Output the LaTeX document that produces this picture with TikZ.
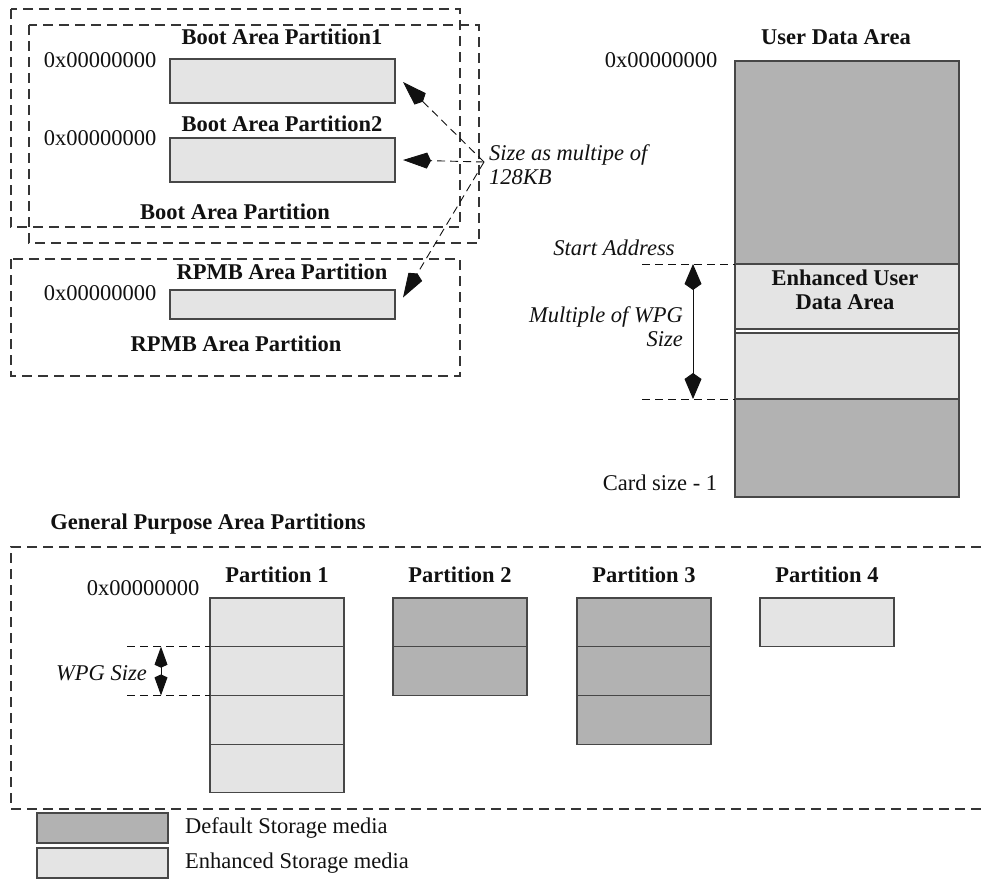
\documentclass[tikz,border=0pt]{standalone}
\usepackage{fontspec}
\setmainfont{Liberation Serif}
\definecolor{ink}{HTML}{111111}
\definecolor{frame}{HTML}{474747}
\definecolor{defmedia}{HTML}{B2B2B2}
\definecolor{enhmedia}{HTML}{E4E4E4}
\usetikzlibrary{
  arrows.meta,
  positioning,
  calc
}
\tikzset{
  every node/.style={font=\fontsize{22.5}{24}\selectfont, text=ink, inner sep=1pt},
  region/.style={draw=ink!85, dash pattern=on 10pt off 6pt, line width=1.1pt},
  cell/.style={
    draw=frame,
    line width=1.1pt,
    inner sep=0pt,
    outer sep=0pt,
    anchor=north west,
    minimum width=134pt,
    minimum height=48.7pt
  },
  title/.style={font=\fontsize{22.5}{24}\selectfont\bfseries},
  note/.style={font=\fontsize{22.5}{24}\selectfont\itshape},
  guide/.style={draw=ink, dash pattern=on 8pt off 5pt, line width=0.9pt},
  pointer/.style={guide, -{Kite[length=28pt, width=16pt, inset=4pt]}},
  span/.style={draw=ink, line width=1pt,
    {Kite[length=26pt, width=17pt, inset=6pt]}-{Kite[length=26pt, width=17pt, inset=6pt]}},
  smallspan/.style={draw=ink, line width=1pt,
    {Kite[length=21pt, width=13pt, inset=3pt]}-{Kite[length=21pt, width=13pt, inset=3pt]}}
}

\begin{document}
\begin{tikzpicture}[x=1pt, y=-1pt]
  \useasboundingbox (0,0) rectangle (981,878);

  % Boot area partitions (top left)
  \draw[region] (11,9) rectangle (460,227);
  \draw[region] (29,25) rectangle (479,243);
  \node[title] (boot1t) at (282,37) {Boot Area Partition1};
  \node (boot1a) at (100,60) {0x00000000};
  \node[cell, fill=enhmedia, minimum width=225pt, minimum height=44pt] (boot1) at (170,59) {};
  \node[title] (boot2t) at (282,124) {Boot Area Partition2};
  \node (boot2a) at (100,138) {0x00000000};
  \node[cell, fill=enhmedia, minimum width=225pt, minimum height=44pt] (boot2) at (170,138) {};
  \node[title] (bootall) at (235,212) {Boot Area Partition};

  % RPMB area partition
  \draw[region] (11,259) rectangle (460,376);
  \node[title] (rpmbt) at (282,272) {RPMB Area Partition};
  \node (rpmba) at (100,293) {0x00000000};
  \node[cell, fill=enhmedia, minimum width=225pt, minimum height=29pt] (rpmb) at (170,290) {};
  \node[title] (rpmball) at (236,344) {RPMB Area Partition};

  % Size pointers
  \coordinate (src) at (484,162);
  \node[note, anchor=west, align=left] (sizenote) at (488,165) {Size as multipe of\\128KB};
  \draw[pointer] (src) -- ([shift={(8,1)}]boot1.east);
  \draw[pointer] (src) -- ([xshift=8pt]boot2.east);
  \draw[pointer] (src) -- ([shift={(8,-7)}]rpmb.east);

  % User data area (right)
  \node[title] (udat) at (836,37) {User Data Area};
  \node (udaa) at (661,60) {0x00000000};
  \node[cell, fill=defmedia, minimum width=224pt, minimum height=203pt] (uda1) at (735,61) {};
  \node[cell, fill=enhmedia, minimum width=224pt, minimum height=65pt] (uda2) at (735,264) {};
  \node[cell, fill=enhmedia, minimum width=224pt, minimum height=66pt] (uda3) at (735,333) {};
  \node[cell, fill=defmedia, minimum width=224pt, minimum height=98pt] (uda4) at (735,399) {};
  \draw[frame, line width=1.1pt] (uda2.south west) -- (uda3.north west) (uda2.south east) -- (uda3.north east);
  \node[title, align=center] (enht) at (845,290) {Enhanced User\\Data Area};
  \node (udaend) at (660,483) {Card size - 1};

  % Enhanced area extent
  \node[note] (start) at (614,248) {Start Address};
  \coordinate (sa) at (642,264);
  \coordinate (se) at (642,399);
  \draw[guide] (sa) -- (uda2.north west);
  \draw[guide] (se) -- (uda3.south west);
  \coordinate (spt) at (693,264);
  \coordinate (spb) at (693,399);
  \draw[span] (spt) -- (spb);
  \node[note, anchor=east, align=right] (wpgmul) at (684,327) {Multiple of WPG\\Size};

  % General purpose area partitions
  \node[title] (gpt) at (208,524) {General Purpose Area Partitions};
  \draw[region] (981,547) -- (11,547) -- (11,809) -- (981,809);
  \node (gpa) at (143,588) {0x00000000};
  \foreach \n/\x/\k/\col in {1/210/4/enhmedia, 2/393/2/defmedia, 3/577/3/defmedia, 4/760/1/enhmedia} {
    \node[title] (pt\n) at (\x+67,575) {Partition \n};
    \foreach \i in {1,...,\k}
      \node[cell, fill=\col] (p\n-\i) at (\x,598+48.7*\i-48.7) {};
  }

  % WPG size
  \coordinate (w1) at (127,646.7);
  \coordinate (w2) at (127,695.4);
  \draw[guide] (w1) -- (p1-2.north west);
  \draw[guide] (w2) -- (p1-3.north west);
  \coordinate (wt) at (161,646.7);
  \coordinate (wb) at (161,695.4);
  \draw[smallspan] (wt) -- (wb);
  \node[note, anchor=east] (wpg) at (148,673) {WPG Size};

  % Legend
  \node[cell, fill=defmedia, minimum width=131pt, minimum height=30pt] (lgdef) at (37,813) {};
  \node[cell, fill=enhmedia, minimum width=131pt, minimum height=30pt] (lgenh) at (37,848) {};
  \node[right=16pt of lgdef] (lgdeft) {Default Storage media};
  \node[right=16pt of lgenh] (lgenht) {Enhanced Storage media};
\end{tikzpicture}
\end{document}
